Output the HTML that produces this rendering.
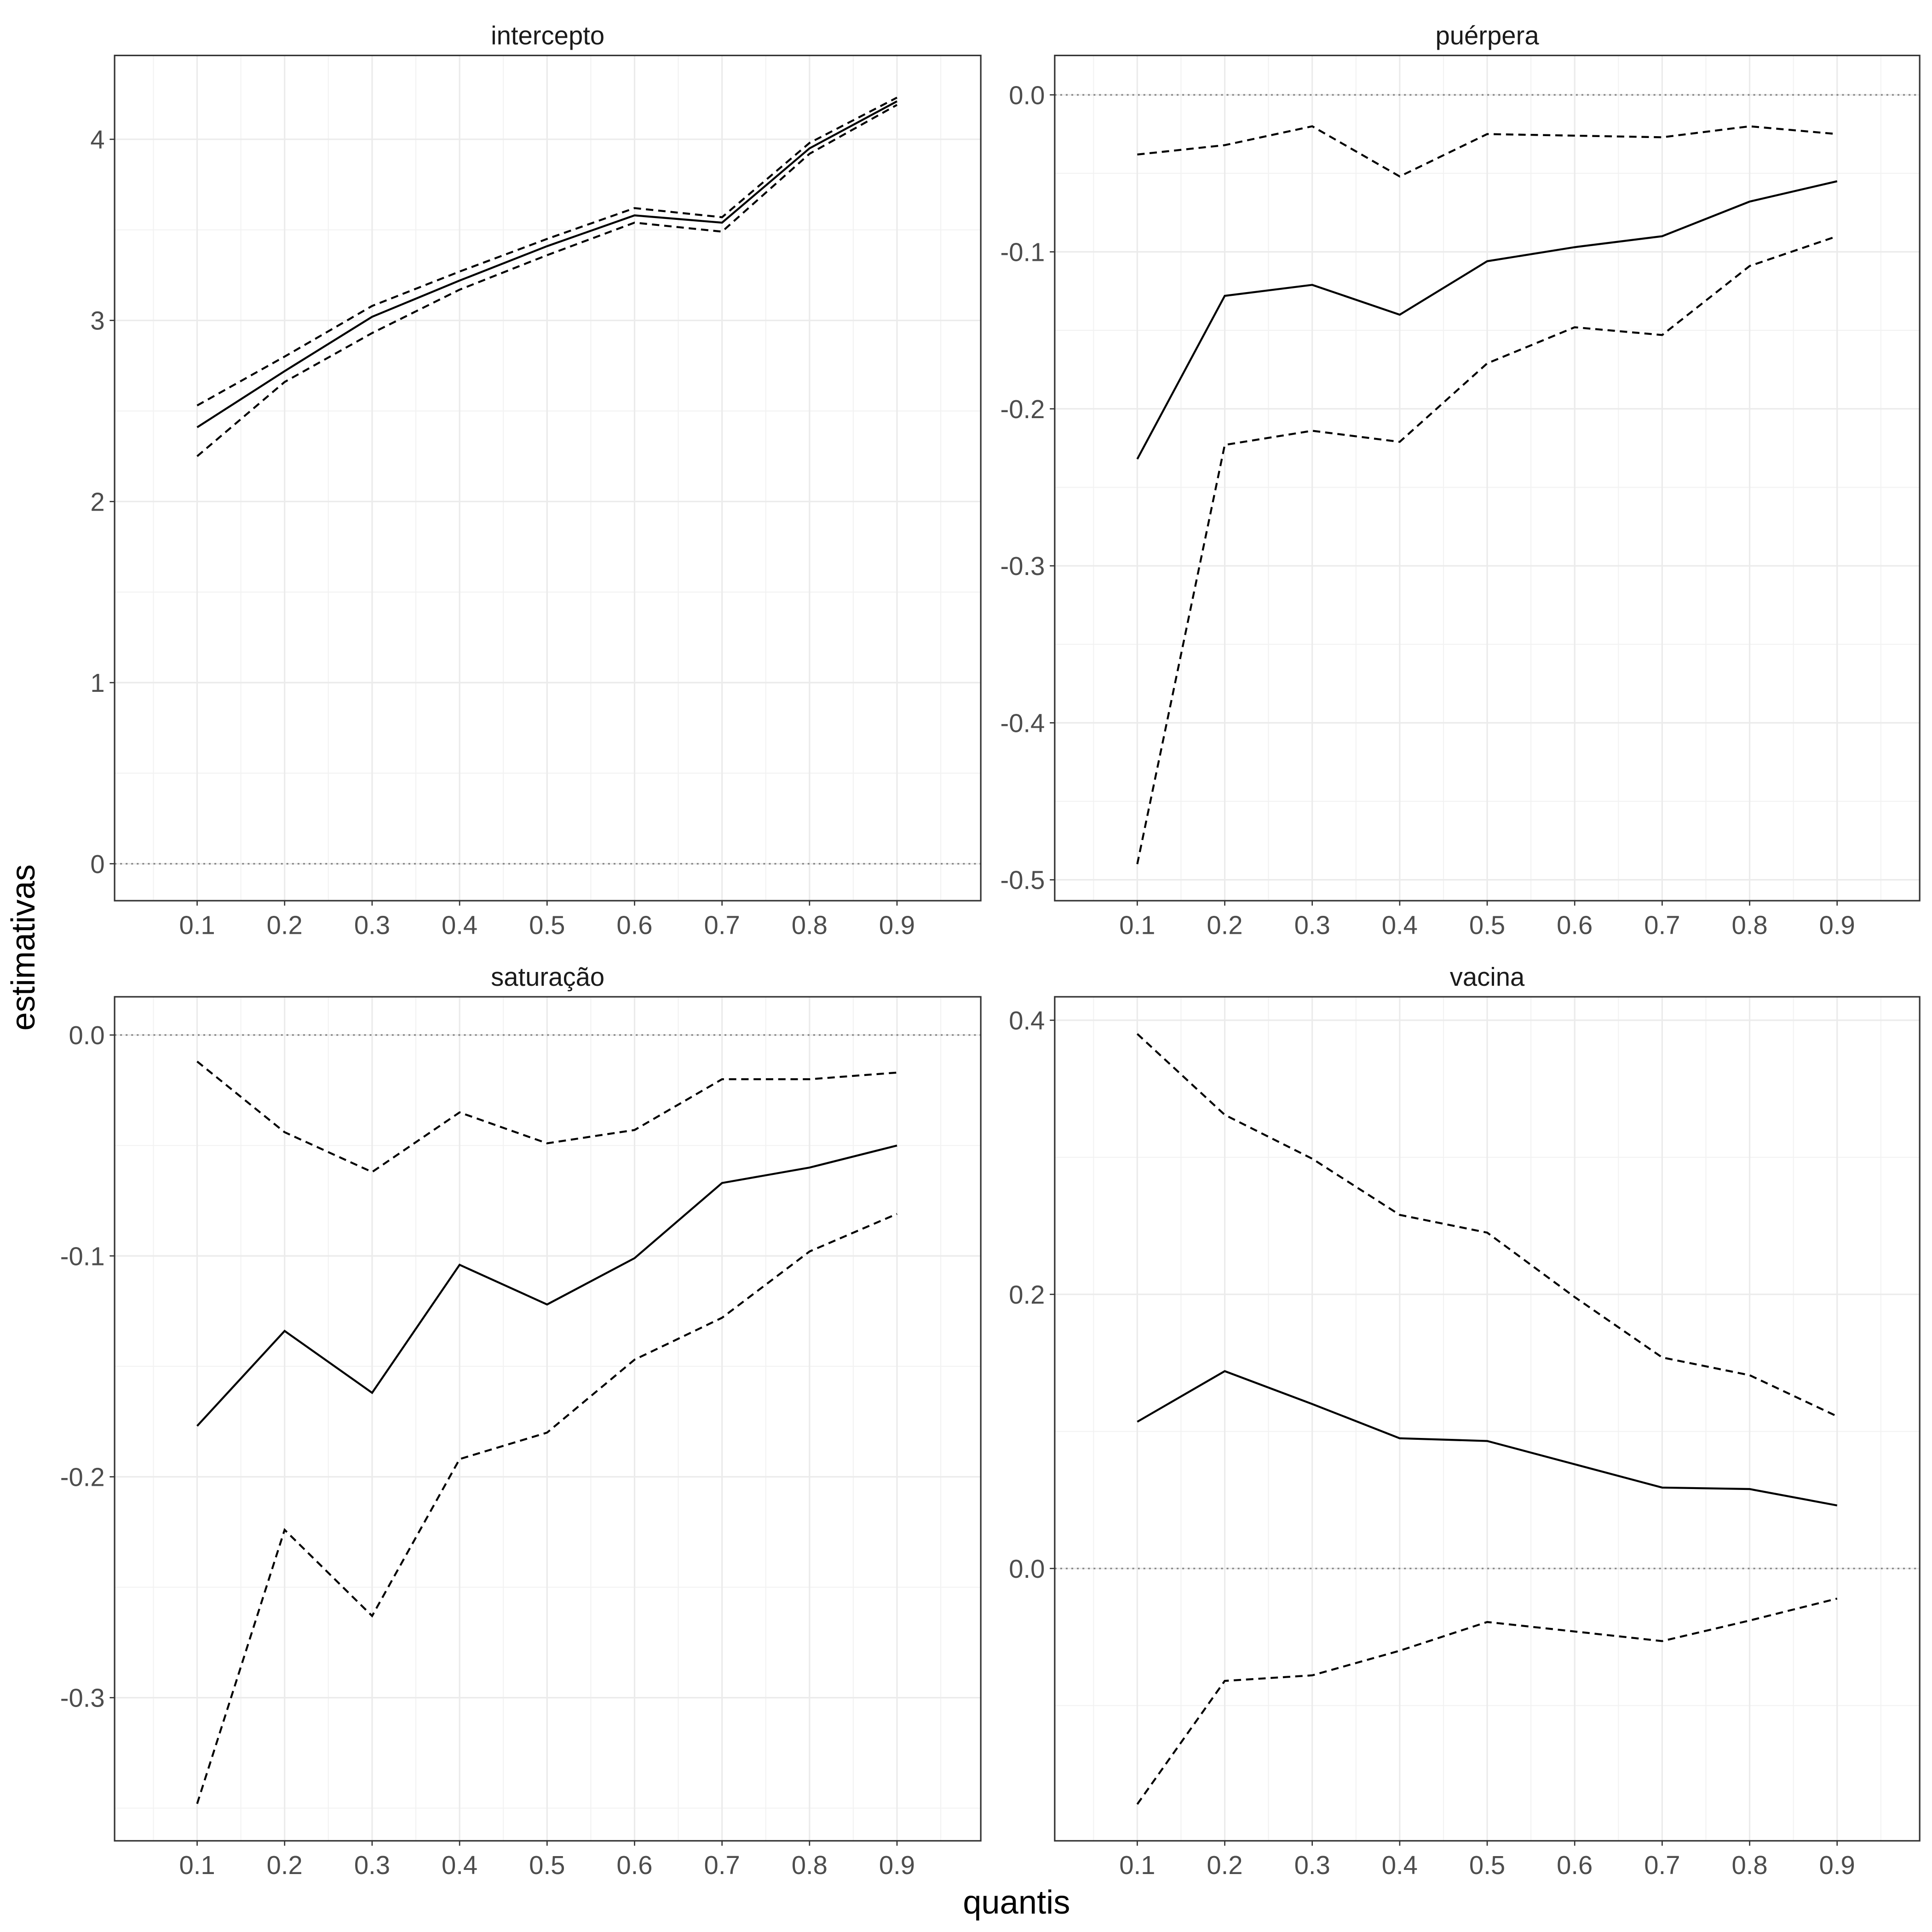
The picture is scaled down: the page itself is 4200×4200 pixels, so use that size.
<!DOCTYPE html>
<html><head><meta charset="utf-8"><style>
html,body{margin:0;padding:0;background:#fff;}
svg{display:block;font-family:"Liberation Sans",sans-serif;}
</style></head><body>
<svg id="chart" width="4200" height="4200" viewBox="0 0 1568 1568" xmlns="http://www.w3.org/2000/svg">
<text x="825" y="1553" font-size="27" text-anchor="middle" fill="#000">quantis</text>
<text transform="translate(28,769) rotate(-90)" font-size="27" text-anchor="middle" fill="#000">estimativas</text>
</svg>
<script>
const quantiles=[0.1,0.2,0.3,0.4,0.5,0.6,0.7,0.8,0.9];
const xTicks=["0.1","0.2","0.3","0.4","0.5","0.6","0.7","0.8","0.9"];
const panelTitles=["intercepto","puérpera","saturação","vacina"];
const interceptEst=[2.41,2.72,3.02,3.22,3.41,3.58,3.54,3.95,4.21];
const interceptUpper=[2.53,2.80,3.08,3.27,3.45,3.62,3.57,3.98,4.23];
const interceptLower=[2.25,2.66,2.93,3.17,3.36,3.54,3.49,3.92,4.19];
const puerperaEst=[-0.232,-0.128,-0.121,-0.140,-0.106,-0.097,-0.090,-0.068,-0.055];
const puerperaUpper=[-0.038,-0.032,-0.020,-0.052,-0.025,-0.026,-0.027,-0.020,-0.025];
const puerperaLower=[-0.490,-0.223,-0.214,-0.221,-0.171,-0.148,-0.153,-0.109,-0.090];
const saturacaoEst=[-0.177,-0.134,-0.162,-0.104,-0.122,-0.101,-0.067,-0.060,-0.050];
const saturacaoUpper=[-0.012,-0.044,-0.062,-0.035,-0.049,-0.043,-0.020,-0.020,-0.017];
const saturacaoLower=[-0.348,-0.224,-0.263,-0.192,-0.180,-0.147,-0.128,-0.098,-0.081];
const vacinaEst=[0.107,0.144,0.120,0.095,0.093,0.076,0.059,0.058,0.046];
const vacinaUpper=[0.390,0.331,0.299,0.258,0.245,0.198,0.154,0.141,0.111];
const vacinaLower=[-0.172,-0.082,-0.078,-0.060,-0.039,-0.046,-0.053,-0.038,-0.022];
const interceptYTicks=[0,1,2,3,4];
const puerperaYTicks=[0,-0.1,-0.2,-0.3,-0.4,-0.5];
const saturacaoYTicks=[0,-0.1,-0.2,-0.3];
const vacinaYTicks=[0,0.2,0.4];

const NS="http://www.w3.org/2000/svg";
const svg=document.getElementById('chart');
function mk(tag,attrs,parent){const e=document.createElementNS(NS,tag);for(const k in attrs)e.setAttribute(k,attrs[k]);parent.appendChild(e);return e;}

const panels=[
 {x0:93,x1:796,y0:45,y1:731,ymin:-0.204,ymax:4.463,ticks:interceptYTicks,step:1,dec:0,est:interceptEst,up:interceptUpper,lo:interceptLower,slug:'intercepto'},
 {x0:856,x1:1558,y0:45,y1:731,ymin:-0.5133,ymax:0.0251,ticks:puerperaYTicks,step:0.1,dec:1,est:puerperaEst,up:puerperaUpper,lo:puerperaLower,slug:'puerpera'},
 {x0:93,x1:796,y0:809,y1:1494,ymin:-0.3648,ymax:0.0173,ticks:saturacaoYTicks,step:0.1,dec:1,est:saturacaoEst,up:saturacaoUpper,lo:saturacaoLower,slug:'saturacao'},
 {x0:856,x1:1558,y0:809,y1:1494,ymin:-0.1987,ymax:0.4171,ticks:vacinaYTicks,step:0.2,dec:1,est:vacinaEst,up:vacinaUpper,lo:vacinaLower,slug:'vacina'}
];
panels.forEach((p,i)=>{
 const g=mk('g',{},svg);
 
 
 const xs=q=>p.x0+67+(q-0.1)*710;
 const ys=v=>p.y1-(v-p.ymin)/(p.ymax-p.ymin)*(p.y1-p.y0);
 for(let k=0;k<10;k++){const q=0.05+k*0.1;const X=xs(q);if(X>p.x0&&X<p.x1)mk('line',{x1:X,x2:X,y1:p.y0,y2:p.y1,stroke:'#f2f2f2','stroke-width':0.8},g);}
 const tmin=Math.min(...p.ticks),tmax=Math.max(...p.ticks);
 for(let v=tmin-p.step*1.5;v<=tmax+p.step;v+=p.step){const Y=ys(v);if(Y>p.y0&&Y<p.y1)mk('line',{x1:p.x0,x2:p.x1,y1:Y,y2:Y,stroke:'#f2f2f2','stroke-width':0.8},g);}
 quantiles.forEach((q,j)=>{const X=xs(q);mk('line',{x1:X,x2:X,y1:p.y0,y2:p.y1,stroke:'#ebebeb','stroke-width':1.2},g);
  mk('line',{x1:X,x2:X,y1:p.y1,y2:p.y1+4,stroke:'#333','stroke-width':1},g);
  const t=mk('text',{x:X,y:p.y1+27,'font-size':21,'text-anchor':'middle',fill:'#4d4d4d'},g);t.textContent=xTicks[j];
  
  });
 p.ticks.forEach(v=>{const Y=ys(v);mk('line',{x1:p.x0,x2:p.x1,y1:Y,y2:Y,stroke:'#ebebeb','stroke-width':1.2},g);
  mk('line',{x1:p.x0-4,x2:p.x0,y1:Y,y2:Y,stroke:'#333','stroke-width':1},g);
  const t=mk('text',{x:p.x0-8,y:Y+7.5,'font-size':21,'text-anchor':'end',fill:'#4d4d4d'},g);t.textContent=v.toFixed(p.dec);
  
  });
 const z=mk('line',{x1:p.x0,x2:p.x1,y1:ys(0),y2:ys(0),stroke:'#888','stroke-width':1.3,'stroke-dasharray':'1.5 3'},g);
 
 
 const line=(arr,dash,name)=>{const d=arr.map((v,j)=>(j?'L':'M')+xs(quantiles[j]).toFixed(1)+','+ys(v).toFixed(1)).join('');
  const pth=mk('path',{d:d,fill:'none',stroke:'#000','stroke-width':1.6},g);if(dash)pth.setAttribute('stroke-dasharray','6 4');
  
  };
 line(p.up,true,'upper-ci-line');
 line(p.lo,true,'lower-ci-line');
 line(p.est,false,'estimate-line');
 const b=mk('rect',{x:p.x0,y:p.y0,width:p.x1-p.x0,height:p.y1-p.y0,fill:'none',stroke:'#333','stroke-width':1.2},g);
 
 
 const t=mk('text',{x:(p.x0+p.x1)/2,y:p.y0-9,'font-size':21,'text-anchor':'middle',fill:'#1a1a1a'},g);t.textContent=panelTitles[i];
 
 
});
</script>
</body></html>
